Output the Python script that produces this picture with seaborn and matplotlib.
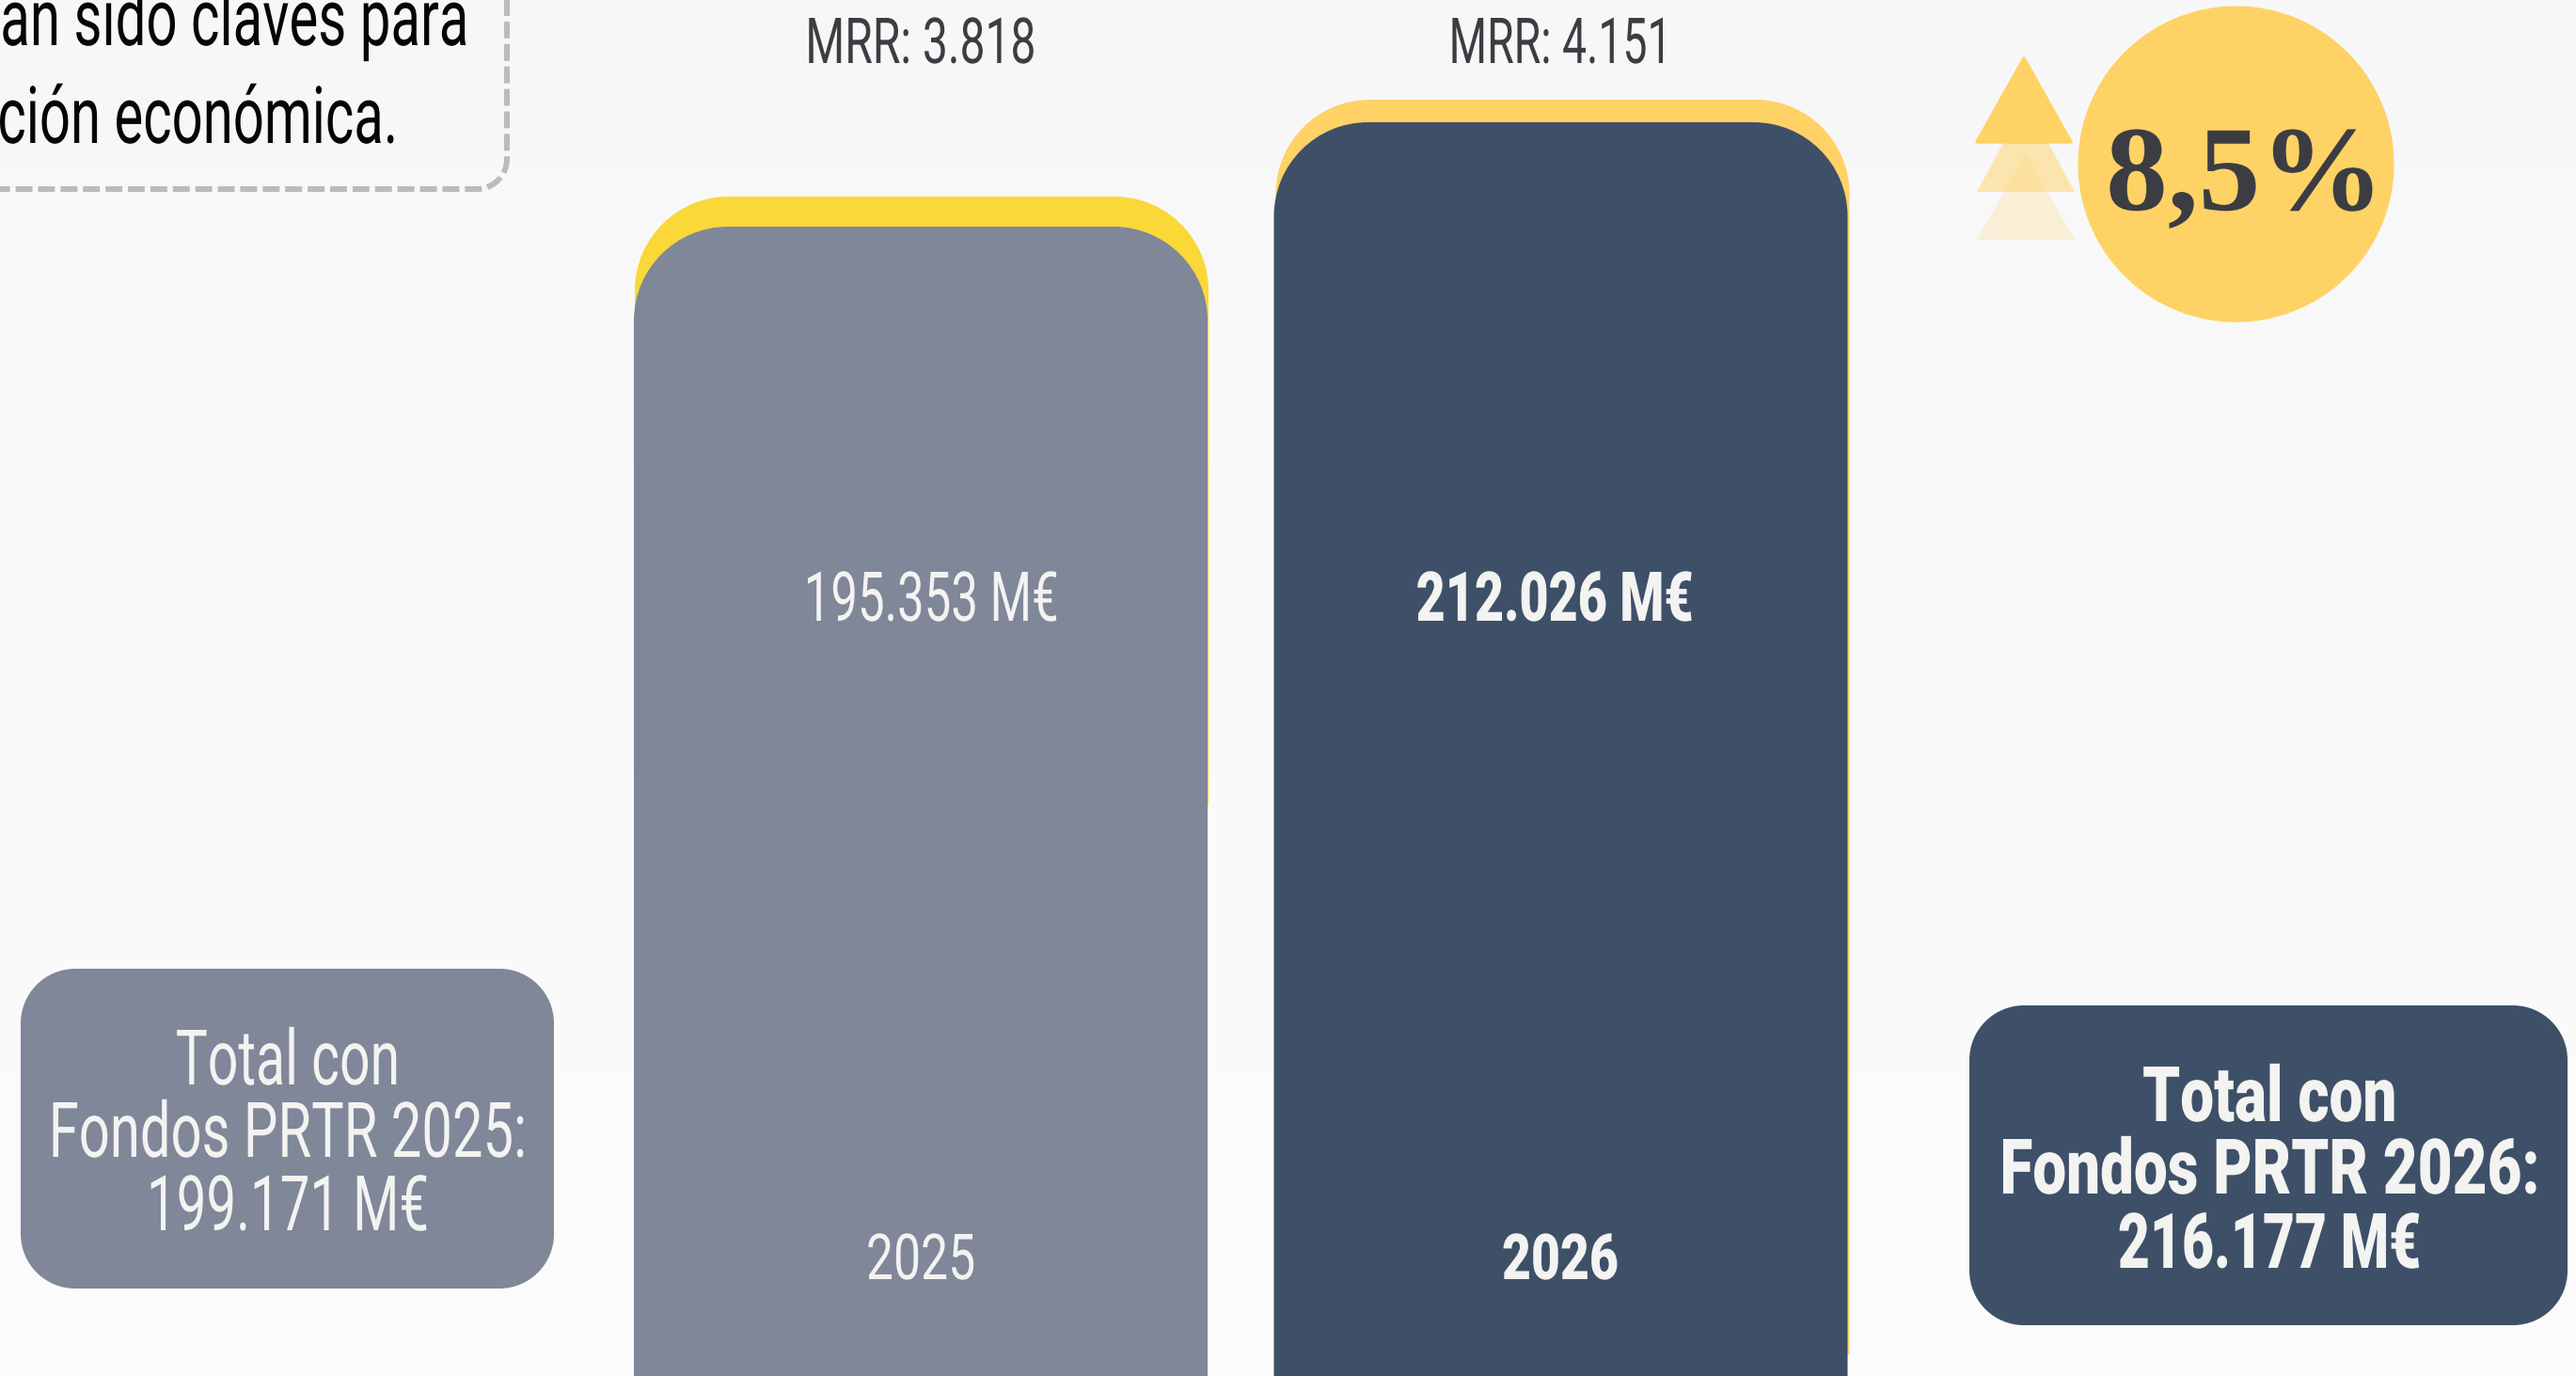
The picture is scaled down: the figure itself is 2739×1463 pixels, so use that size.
import matplotlib
matplotlib.use("Agg")
import matplotlib.pyplot as plt
import seaborn as sns
import numpy as np
from matplotlib.patches import Circle, Polygon, PathPatch
from matplotlib.path import Path
from matplotlib.patheffects import AbstractPathEffect
from matplotlib.transforms import Affine2D, IdentityTransform

W, H, DPI = 2739, 1463, 100

# ---- data -------------------------------------------------------------
years = ["2025", "2026"]
budget = [195353, 212026]          # M€, front bars
drawn_with_mrr = [200158, 215630]  # M€, top of yellow back bars
mrr_labels = ["MRR: 3.818", "MRR: 4.151"]
budget_labels = ["195.353 M€", "212.026 M€"]
total_2025 = ["Total con", "Fondos PRTR 2025:", "199.171 M€"]
total_2026 = ["Total con", "Fondos PRTR 2026:", "216.177 M€"]
growth_label = "8,5%"
note_lines = ["an sido claves para", "ción económica."]

# ---- colours / fonts ---------------------------------------------------
GRAY, NAVY = "#7F8799", "#3E5068"
YEL1, YEL2 = "#F9D838", "#FFD265"
LIGHT, DARK = "#F3F3F1", "#3B3D42"
SANS = ["Roboto", "DejaVu Sans"]
SERIF = ["Liberation Serif", "DejaVu Serif"]

sns.set_theme(style="white")
fig = plt.figure(figsize=(W / DPI, H / DPI), dpi=DPI, facecolor="#F8F8F8")
# very faint page shading, lighter towards the bottom
shade = np.tile(np.linspace(246.5, 251, H)[:, None], (1, W))
fig.figimage(shade, cmap="gray", vmin=0, vmax=255, origin="upper", zorder=-5)
ax = fig.add_axes([0, 0, 1, 1], facecolor="none")

# back (yellow) bars, then front bars, through seaborn
sns.barplot(x=years, y=drawn_with_mrr, hue=years, palette=[YEL1, YEL2],
            width=0.8964, legend=False, saturation=1, ax=ax)
n_back = len(ax.patches)
sns.barplot(x=years, y=budget, hue=years, palette=[GRAY, NAVY],
            width=0.8964, legend=False, saturation=1, ax=ax)

# one category step = 680.5 px, bars centred at px 979 and 1659.5
ax.set_xlim(-979 / 680.5, (W - 979) / 680.5)
k = 111 / (budget[1] - budget[0])  # px per M€
ax.set_ylim(budget[0] - (H - 241) / k, budget[0] + 241 / k)
ax.axis("off")
fig.canvas.draw()
px = Affine2D().scale(1, -1).translate(0, H)  # top-left pixel coordinates
KAPPA = 0.5523


def top_rounded_path(x0, y0, x1, y1, r):
    """y grows upwards here; y1 is the top edge."""
    c = KAPPA * r
    verts = [(x0, y0), (x0, y1 - r), (x0, y1 - r + c), (x0 + r - c, y1), (x0 + r, y1),
             (x1 - r, y1), (x1 - r + c, y1), (x1, y1 - r + c), (x1, y1 - r),
             (x1, y0), (x0, y0)]
    codes = [Path.MOVETO, Path.LINETO, Path.CURVE4, Path.CURVE4, Path.CURVE4,
             Path.LINETO, Path.CURVE4, Path.CURVE4, Path.CURVE4, Path.LINETO, Path.CLOSEPOLY]
    return Path(verts, codes)


def round_top(rect, z, r=100, dx=0, stop=None):
    """Give a seaborn bar a rounded top; stop = pixel row where it ends."""
    (x0, _), (x1, y1) = ax.transData.transform(
        [(rect.get_x(), rect.get_y()), (rect.get_x() + rect.get_width(), rect.get_y() + rect.get_height())])
    y0 = H - stop if stop is not None else -5
    ax.add_artist(PathPatch(top_rounded_path(x0 + dx, y0, x1 + dx, y1, r), fc=rect.get_facecolor(), ec="none",
                            transform=IdentityTransform(), zorder=z, clip_on=False))
    rect.set_visible(False)


back = ax.patches[:n_back]
front = ax.patches[n_back:]
round_top(back[0], 1, dx=1, stop=857)
round_top(back[1], 1, dx=2, stop=1440)
for b in front:
    round_top(b, 2)


def box(x0, y0, x1, y1, r, **kw):
    """Circular-cornered rectangle in top-left pixel coordinates."""
    c = KAPPA * r
    verts = [(x0 + r, y0), (x1 - r, y0), (x1 - r + c, y0), (x1, y0 + r - c), (x1, y0 + r),
             (x1, y1 - r), (x1, y1 - r + c), (x1 - r + c, y1), (x1 - r, y1),
             (x0 + r, y1), (x0 + r - c, y1), (x0, y1 - r + c), (x0, y1 - r),
             (x0, y0 + r), (x0, y0 + r - c), (x0 + r - c, y0), (x0 + r, y0), (x0 + r, y0)]
    codes = [Path.MOVETO, Path.LINETO, Path.CURVE4, Path.CURVE4, Path.CURVE4,
             Path.LINETO, Path.CURVE4, Path.CURVE4, Path.CURVE4,
             Path.LINETO, Path.CURVE4, Path.CURVE4, Path.CURVE4,
             Path.LINETO, Path.CURVE4, Path.CURVE4, Path.CURVE4, Path.CLOSEPOLY]
    p = PathPatch(Path(verts, codes), transform=px, zorder=2, **kw)
    fig.add_artist(p)
    return p


box(22, 1030, 589, 1370, 58, fc=GRAY, ec="none")
box(2094, 1069, 2730, 1409, 58, fc=NAVY, ec="none")
box(-200, -300, 539, 201, 32, fc="none", ec="#BBBBBB", lw=4.3, linestyle=(0, (3, 1)), capstyle="butt")

# growth badge
fig.add_artist(Circle((2377.5, 174.5), 168, fc=YEL2, ec="none", transform=px, zorder=2))
for (cx, apex, base, alpha) in [(2154, 163, 255, 0.22), (2154, 108, 204, 0.5)]:
    fig.add_artist(Polygon([(cx - 52, base), (cx, apex), (cx + 52, base)], closed=True,
                           fc=YEL2, ec="none", alpha=alpha, transform=px, zorder=2))
fig.add_artist(Polygon([(2102, 151), (2152, 62), (2202, 151)], closed=True, fc=YEL2, ec=YEL2, lw=2.5,
                       joinstyle="round", transform=px, zorder=2))

renderer = fig.canvas.get_renderer()


class Tall(AbstractPathEffect):
    """Stretch the glyph outlines of a text vertically from its baseline (display y = y0)."""

    def __init__(self, sy, y0):
        super().__init__()
        self.sy, self.y0 = sy, y0

    def draw_path(self, renderer, gc, tpath, affine, rgbFace=None):
        tall = Affine2D().translate(0, -self.y0).scale(1, self.sy).translate(0, self.y0)
        renderer.draw_path(gc, tpath, affine + tall, rgbFace)


def label(s, cx, base, width, cap, color=LIGHT, weight="normal", family=SANS, ratio=0.711, ha="center"):
    t = fig.text(cx, base, s, transform=px, ha=ha, va="baseline", color=color, family=family,
                 fontweight=weight, fontsize=40, zorder=3)
    size = 40 * width / t.get_window_extent(renderer).width
    t.set_fontsize(size)
    t.set_path_effects([Tall(cap / (ratio * size * DPI / 72), H - base)])
    return t


for s, cx, w in zip(mrr_labels, [979, 1659], [245, 237]):
    label(s, cx, 67, w, 48, color=DARK)
label(budget_labels[0], 990, 660, 271, 52)
label(budget_labels[1], 1653, 660, 295, 52, weight=900)
label(years[0], 979, 1360, 116, 48)
label(years[1], 1659, 1360, 124, 48, weight=900)
for s, b, w in zip(total_2025, [1153, 1230, 1308], [238, 508, 300]):
    label(s, 306, b, w, 58)
for s, b, w in zip(total_2026, [1192, 1269, 1348], [270, 574, 322]):
    label(s, 2413, b, w, 58, weight=900)
label(growth_label, 2387, 223, 296, 87, color=DARK, weight="bold", family=SERIF, ratio=0.676)
label(note_lines[0], 498, 48, 498, 60, color="#050505", ha="right")
label(note_lines[1], 423, 152, 425, 60, color="#050505", ha="right")

fig.savefig("out.png", dpi=DPI)
